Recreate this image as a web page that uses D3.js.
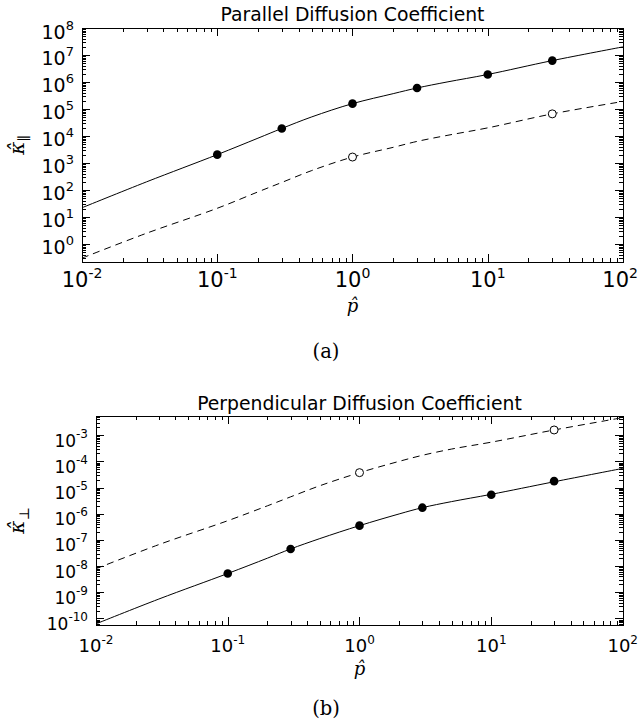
<!DOCTYPE html>
<html>
<head>
<meta charset="utf-8">
<script src="https://cdn.jsdelivr.net/npm/d3@7"></script>
<style>
  html, body { margin: 0; padding: 0; background: #fff; }
  svg { display: block; }
</style>
</head>
<body>
<svg id="chart" width="639" height="722"></svg>
<script>
// ---- data ----
const pGrid      = [0.01, 0.03, 0.1, 0.2, 0.3, 0.5, 1, 2, 3, 5, 10, 30, 100];
const parSolid   = [22, 200, 2040, 8300, 1.9e4, 5.1e4, 1.58e5, 3.7e5, 6.0e5, 1.0e6, 1.9e6, 6.2e6, 2.0e7];
const parDashed  = [0.30, 2.5, 21, 85, 190, 525, 1660, 3800, 6300, 1.05e4, 2.0e4, 6.6e4, 1.9e5];
const perpSolid  = [6.2e-11, 5.5e-10, 5.2e-9, 2.0e-8, 4.5e-8, 1.12e-7, 3.5e-7, 9.8e-7, 1.7e-6, 2.9e-6, 5.5e-6, 1.66e-5, 5.4e-5];
const perpDashed = [7.9e-9, 6.6e-8, 5.4e-7, 2.0e-6, 4.4e-6, 1.17e-5, 3.7e-5, 1.0e-4, 1.7e-4, 2.95e-4, 5.4e-4, 1.58e-3, 4.7e-3];

const filledP    = [0.1, 0.3, 1, 3, 10, 30];
const parFilled  = [2040, 1.9e4, 1.58e5, 6.0e5, 1.9e6, 6.2e6];
const perpFilled = [5.2e-9, 4.5e-8, 3.5e-7, 1.7e-6, 5.3e-6, 1.75e-5];
const openP      = [1, 30];
const parOpen    = [1660, 6.6e4];
const perpOpen   = [3.7e-5, 1.58e-3];

const xTickExp     = [-2, -1, 0, 1, 2];
const parYTickExp  = [0, 1, 2, 3, 4, 5, 6, 7, 8];
const perpYTickExp = [-10, -9, -8, -7, -6, -5, -4, -3];

const xDomain     = [0.01, 100];
const parYDomain  = [0.215, 1e8];
const perpYDomain = [5.6e-11, 5.4e-3];

// ---- drawing ----
const svg = d3.select("#chart");
const SANS = "'DejaVu Sans', sans-serif";
const SERIF = "'DejaVu Serif', serif";

function logTicks(domain) {
  const out = [];
  const lo = Math.floor(Math.log10(domain[0])), hi = Math.ceil(Math.log10(domain[1]));
  for (let d = lo; d <= hi; d++) {
    for (let k = 1; k <= 9; k++) {
      const v = k * Math.pow(10, d);
      if (v >= domain[0] * 0.9999 && v <= domain[1] * 1.0001) out.push({v, major: k === 1});
    }
  }
  return out;
}

function panel(cfg) {
  const {left, right, top, bottom} = cfg.box;
  const x = d3.scaleLog().domain(xDomain).range([left, right]);
  const y = d3.scaleLog().domain(cfg.yDomain).range([bottom, top]);
  const g = svg.append("g");

  const clipId = "clip" + cfg.id;
  svg.append("clipPath").attr("id", clipId)
    .append("rect").attr("x", left).attr("y", top).attr("width", right - left + 1).attr("height", bottom - top + 1);

  // curves
  const line = d3.line().x(d => x(d[0])).y(d => y(d[1])).curve(d3.curveCatmullRom.alpha(0.5));
  const plot = g.append("g").attr("clip-path", `url(#${clipId})`);
  plot.append("path").datum(pGrid.map((p, i) => [p, cfg.solid[i]]))
    .attr("d", line).attr("fill", "none").attr("stroke", "#000").attr("stroke-width", 1);
  plot.append("path").datum(pGrid.map((p, i) => [p, cfg.dashed[i]]))
    .attr("d", line).attr("fill", "none").attr("stroke", "#000").attr("stroke-width", 1)
    .attr("stroke-dasharray", "7,5");

  // markers
  plot.selectAll("circle.f").data(filledP.map((p, i) => [p, cfg.filled[i]])).enter()
    .append("circle").attr("cx", d => x(d[0])).attr("cy", d => y(d[1])).attr("r", 4.3)
    .attr("fill", "#000");
  plot.selectAll("circle.o").data(openP.map((p, i) => [p, cfg.open[i]])).enter()
    .append("circle").attr("cx", d => x(d[0])).attr("cy", d => y(d[1])).attr("r", 4)
    .attr("fill", "#fff").attr("stroke", "#000").attr("stroke-width", 1);

  // ticks (inward, all four sides)
  const tk = g.append("g").attr("stroke", "#000").attr("stroke-width", 1);
  logTicks(xDomain).forEach(t => {
    const px = Math.round(x(t.v)) + 0.5, len = t.major ? 8 : 4;
    tk.append("line").attr("x1", px).attr("x2", px).attr("y1", bottom).attr("y2", bottom - len);
    tk.append("line").attr("x1", px).attr("x2", px).attr("y1", top).attr("y2", top + len);
  });
  logTicks(cfg.yDomain).forEach(t => {
    const py = Math.round(y(t.v)) + 0.5, len = t.major ? 8 : 4;
    tk.append("line").attr("y1", py).attr("y2", py).attr("x1", left).attr("x2", left + len);
    tk.append("line").attr("y1", py).attr("y2", py).attr("x1", right).attr("x2", right - len);
  });

  // frame
  g.append("rect").attr("x", left + 0.5).attr("y", top + 0.5)
    .attr("width", right - left).attr("height", bottom - top)
    .attr("fill", "none").attr("stroke", "#000").attr("stroke-width", 1);

  // x tick labels
  xTickExp.forEach(e => {
    const t = g.append("text").attr("x", x(Math.pow(10, e))).attr("y", bottom + cfg.xLabDy)
      .attr("text-anchor", "middle").attr("font-family", SANS).attr("font-size", cfg.xLabSize).attr("fill", "#000");
    t.append("tspan").text("10");
    t.append("tspan").attr("dy", -cfg.xSupRise).attr("font-size", cfg.xSupSize).text(String(e));
    const bb = t.node().getBBox();
    if (bb.x + bb.width > 638) t.attr("x", +t.attr("x") - (bb.x + bb.width - 638));
  });
  // y tick labels
  cfg.yTickExp.forEach(e => {
    const t = g.append("text").attr("x", left - cfg.yLabGap).attr("y", y(Math.pow(10, e)) + cfg.yLabDy)
      .attr("text-anchor", "end").attr("font-family", SANS).attr("font-size", cfg.yLabSize).attr("fill", "#000");
    t.append("tspan").text("10");
    t.append("tspan").attr("dy", -cfg.ySupRise).attr("font-size", cfg.ySupSize).text(String(e));
  });

  // title
  g.append("text").attr("x", (left + right) / 2).attr("y", cfg.titleY)
    .attr("text-anchor", "middle").attr("font-family", SANS).attr("font-size", cfg.titleSize)
    .attr("fill", "#000").text(cfg.title);

  // x axis label p-hat
  g.append("text").attr("x", (left + right) / 2).attr("y", cfg.pY).attr("text-anchor", "middle")
    .attr("font-family", SERIF).attr("font-style", "italic").attr("font-size", 18).text("p\u0302");

  // y axis label kappa-hat
  const yc = (top + bottom) / 2;
  const yl = g.append("text").attr("transform", `translate(24,${yc}) rotate(-90)`)
    .attr("text-anchor", "middle").attr("font-family", SERIF).attr("font-size", 20);
  yl.append("tspan").attr("font-style", "italic").text("\u03BA\u0302");
  yl.append("tspan").attr("dy", 5).attr("font-size", 14).text(cfg.sub);

  // caption
  svg.append("text").attr("x", 326).attr("y", cfg.capY).attr("text-anchor", "middle")
    .attr("font-family", SERIF).attr("font-size", 19.5).text(cfg.caption);
}

panel({
  id: "a", box: {left: 82, right: 623, top: 28, bottom: 262},
  yDomain: parYDomain, solid: parSolid, dashed: parDashed,
  filled: parFilled, open: parOpen, yTickExp: parYTickExp,
  xLabDy: 25, xLabSize: 21, xSupSize: 14, xSupRise: 9,
  yLabGap: 8, yLabDy: 10.5, yLabSize: 19, ySupSize: 13, ySupRise: 9,
  title: "Parallel Diffusion Coefficient", titleY: 21, titleSize: 18.8,
  pY: 312, sub: "\u2225", caption: "(a)", capY: 358
});

panel({
  id: "b", box: {left: 96, right: 623, top: 416, bottom: 625},
  yDomain: perpYDomain, solid: perpSolid, dashed: perpDashed,
  filled: perpFilled, open: perpOpen, yTickExp: perpYTickExp,
  xLabDy: 27, xLabSize: 18, xSupSize: 12, xSupRise: 8,
  yLabGap: 8, yLabDy: 11.5, yLabSize: 17, ySupSize: 12, ySupRise: 9,
  title: "Perpendicular Diffusion Coefficient", titleY: 410, titleSize: 18.8,
  pY: 675, sub: "\u22A5", caption: "(b)", capY: 715
});
</script>
</body>
</html>
